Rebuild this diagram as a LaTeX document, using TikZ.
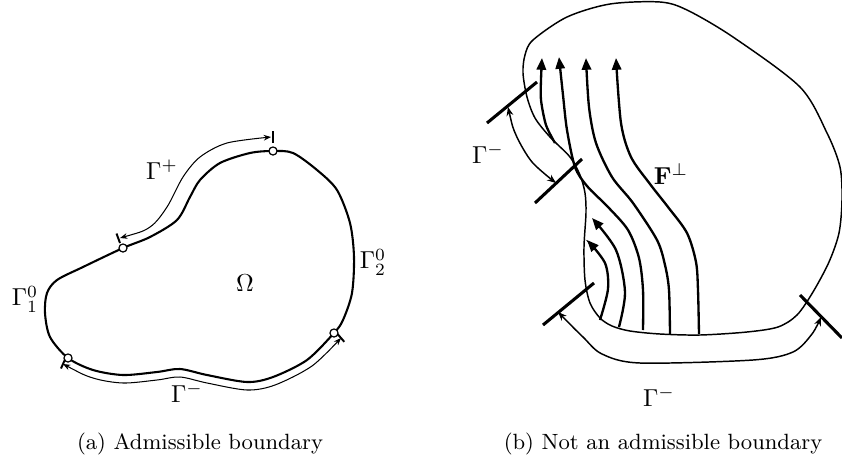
\documentclass[tikz,border=0pt]{standalone}
\usetikzlibrary{arrows.meta}
\begin{document}
\begin{tikzpicture}[x=0.408pt,y=-0.408pt,
  bndA/.style={line width=0.85pt},
  bndB/.style={line width=0.6pt},
  fieldline/.style={line width=0.95pt,-{Triangle[length=4.8pt,width=3.8pt]}},
  gamarr/.style={line width=0.42pt,{Stealth[length=3pt,width=2.3pt]}-{Stealth[length=3pt,width=2.3pt]}},
  gamarrB/.style={line width=0.6pt,{Stealth[length=3.6pt,width=2.8pt]}-{Stealth[length=3.6pt,width=2.8pt]}},
  endbar/.style={line width=0.8pt},
  tickbar/.style={line width=1.25pt},
  vtx/.style={circle,draw,fill=white,line width=0.5pt,inner sep=0pt,minimum size=3.3pt},
  lbl/.style={inner sep=0pt},
  captxt/.style={inner sep=0pt,anchor=base,font=\fontsize{9}{11}\selectfont}]
\useasboundingbox (0,0) rectangle (842,461);
% ---------- (a) ----------
\draw[bndA] plot[smooth cycle] coordinates {(273,151) (293,153) (317,170) (337,190) (350,223) (354,257) (352,293) (343,320) (334,333) (307,360) (273,377) (247,382) (207,375) (180,369) (157,372) (123,375) (93,370) (68,358) (50,337) (45,313) (47,293) (57,280) (83,267) (123,248) (150,237) (177,220) (190,197) (200,180) (220,163) (250,153)};
\node[vtx] (v1) at (273,151) {};
\node[vtx] (v2) at (123,248) {};
\node[vtx] (v3) at (68,358) {};
\node[vtx] (v4) at (334,333) {};
% Gamma+ arrow
\coordinate (gpA) at (120,238);
\coordinate (gpB) at (271,137);
\draw[gamarr] plot[smooth] coordinates {(gpA) (150,227) (167,207) (183,177) (200,157) (227,143) (gpB)};
\draw[endbar] (273,131) -- (273,143);
\draw[endbar] (116.5,233.5) -- (120,243);
% Gamma- arrow
\coordinate (gmA) at (63,364);
\coordinate (gmB) at (341,338);
\draw[gamarr] plot[smooth] coordinates {(gmA) (93,378) (123,383) (157,380) (180,377) (207,383) (247,390) (275,385) (312,366) (gmB)};
\draw[endbar] (65,359.5) -- (61,368.5);
\draw[endbar] (337.7,334.2) -- (344.3,341.8);
% labels
\node[lbl] (gplus) at (162,170) {$\Gamma^+$};
\node[lbl] (omega) at (245,283) {$\Omega$};
\node[lbl] (g10) at (25,299) {$\Gamma^0_1$};
\node[lbl] (g20) at (373,262) {$\Gamma^0_2$};
\node[lbl] (gminA) at (187,393) {$\Gamma^-$};
% ---------- (b) ----------
\draw[bndB] plot[smooth cycle] coordinates {(533,40) (567,17) (610,4) (660,2) (687,10) (733,37) (800,87) (827,133) (840,167) (842,200) (839,233) (829,262) (813,292) (797,315) (778,327) (747,332) (700,335) (660,334) (630,331) (612,326) (600,318) (590,303) (585,280) (584,247) (586,213) (585,193) (580,175) (570,157) (550,137) (535,118) (527,97) (523,73) (525,55)};
% field lines
\draw[fieldline] plot[smooth] coordinates {(555,143) (546,125) (541,100) (541,80) (542,58)};
\draw[fieldline] plot[smooth] coordinates {(643,330) (643,290) (639,258) (628,230) (608,207) (587,186) (575,167) (567,130) (563,95) (559,57)};
\draw[fieldline] plot[smooth] coordinates {(670,334) (669,290) (665,265) (657,240) (633,203) (612,177) (596,143) (589,107) (586,58)};
\draw[fieldline] plot[smooth] coordinates {(699,334) (698,290) (696,262) (687,233) (668,207) (650,184) (631,157) (621,123) (616,58)};
\draw[fieldline] plot[smooth] coordinates {(600,320) (608,289) (605,263) (587,240)};
\draw[fieldline] plot[smooth] coordinates {(619,327) (625,292) (616,250) (592,218)};
% ticks
\draw[tickbar] (487,123) -- (537,82);
\draw[tickbar] (535,203) -- (582,159);
\draw[tickbar] (543,325) -- (594,283);
\draw[tickbar] (800,295) -- (842,338);
% Gamma- arrows
\coordinate (uA) at (508,107);
\coordinate (uB) at (556,183);
\draw[gamarrB] plot[smooth] coordinates {(uA) (516,135) (532,162) (uB)};
\coordinate (bA) at (558,312);
\coordinate (bB) at (821,317);
\draw[gamarrB] plot[smooth] coordinates {(bA) (583,337) (602,354) (640,363) (753,360) (793,352) (812,334) (bB)};
% labels
\node[lbl] (gminB1) at (488,154) {$\Gamma^-$};
\node[lbl] (gminB2) at (659,397) {$\Gamma^-$};
\node[lbl] (fperp) at (671,174) {$\mathbf{F}^\perp$};
% captions
\node[captxt] (capa) at (200,449) {(a) Admissible boundary};
\node[captxt] (capb) at (663,449) {(b) Not an admissible boundary};
\end{tikzpicture}
\end{document}
